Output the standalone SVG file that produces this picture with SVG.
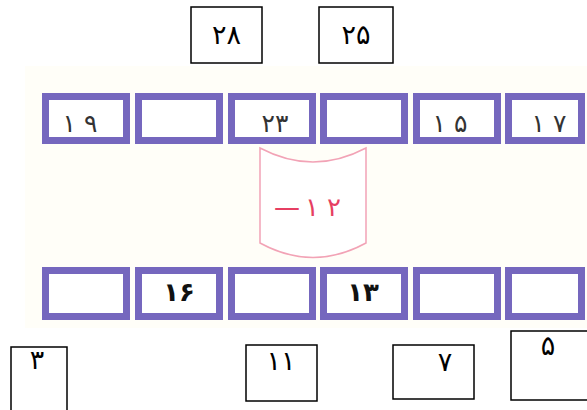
<svg xmlns="http://www.w3.org/2000/svg" width="587" height="410" viewBox="0 0 587 410">
<style>
.bx{fill:#fff;stroke:#000;stroke-width:1.5}
.cell{fill:#fff;stroke:#7567BE;stroke-width:7}
.t{font-family:"DejaVu Sans",sans-serif;font-size:27px;fill:#000;text-anchor:middle}
.c{font-family:"DejaVu Sans",sans-serif;font-size:25px;fill:#333;text-anchor:middle}
.cb{font-family:"DejaVu Sans",sans-serif;font-size:26px;font-weight:bold;fill:#111;text-anchor:middle}
.m{font-family:"DejaVu Sans",sans-serif;font-size:26px;fill:#E63F62;text-anchor:middle}
</style>
<rect width="587" height="410" fill="#fff"/>
<rect x="25" y="66" width="562" height="262" fill="#FFFEF8"/>
<g id="top28"><rect class="bx" x="191" y="7" width="71" height="56"/><text class="t" x="226.5" y="44">۲۸</text></g>
<g id="top25"><rect class="bx" x="319" y="7" width="74" height="56"/><text class="t" x="356" y="44">۲۵</text></g>
<g id="row1">
<g id="r1c1"><rect class="cell" x="45.5" y="96.5" width="81" height="44"/><text class="c" x="80" y="132">۱  ۹</text></g>
<g id="r1c2"><rect class="cell" x="138.5" y="96.5" width="81" height="44"/></g>
<g id="r1c3"><rect class="cell" x="231.5" y="96.5" width="81" height="44"/><text class="c" x="275" y="132">۲۳</text></g>
<g id="r1c4"><rect class="cell" x="323.5" y="96.5" width="81" height="44"/></g>
<g id="r1c5"><rect class="cell" x="416.5" y="96.5" width="81" height="44"/><text class="c" x="450" y="132">۱ ۵</text></g>
<g id="r1c6"><rect class="cell" x="508.5" y="96.5" width="73" height="44"/><text class="c" x="549" y="132">۱ ۷</text></g>
</g>
<g id="op">
<path d="M260,148 Q313,176 366,148 L366,243 Q313,272 260,243 Z" fill="#fff" stroke="#F2A3B6" stroke-width="1.5"/>
<text class="m" x="287" y="216">—</text>
<text class="m" x="323" y="216">۱  ۲</text>
</g>
<g id="row2">
<g id="r2c1"><rect class="cell" x="45.5" y="270.5" width="81" height="46"/></g>
<g id="r2c2"><rect class="cell" x="138.5" y="270.5" width="81" height="46"/><text class="cb" x="179" y="301">۱۶</text></g>
<g id="r2c3"><rect class="cell" x="231.5" y="270.5" width="81" height="46"/></g>
<g id="r2c4"><rect class="cell" x="323.5" y="270.5" width="81" height="46"/><text class="cb" x="363" y="301">۱۳</text></g>
<g id="r2c5"><rect class="cell" x="416.5" y="270.5" width="81" height="46"/></g>
<g id="r2c6"><rect class="cell" x="508.5" y="270.5" width="73" height="46"/></g>
</g>
<g id="b3"><rect class="bx" x="11" y="347" width="56" height="70"/><text class="t" x="37" y="369">۳</text></g>
<g id="b11"><rect class="bx" x="246" y="345" width="71" height="56"/><text class="t" x="281" y="370">۱۱</text></g>
<g id="b7"><rect class="bx" x="393" y="345" width="81" height="54"/><text class="t" x="445" y="371">۷</text></g>
<g id="b5"><rect class="bx" x="511" y="331" width="80" height="69"/><text class="t" x="548" y="355">۵</text></g>
<g id="connectors"></g>
</svg>
